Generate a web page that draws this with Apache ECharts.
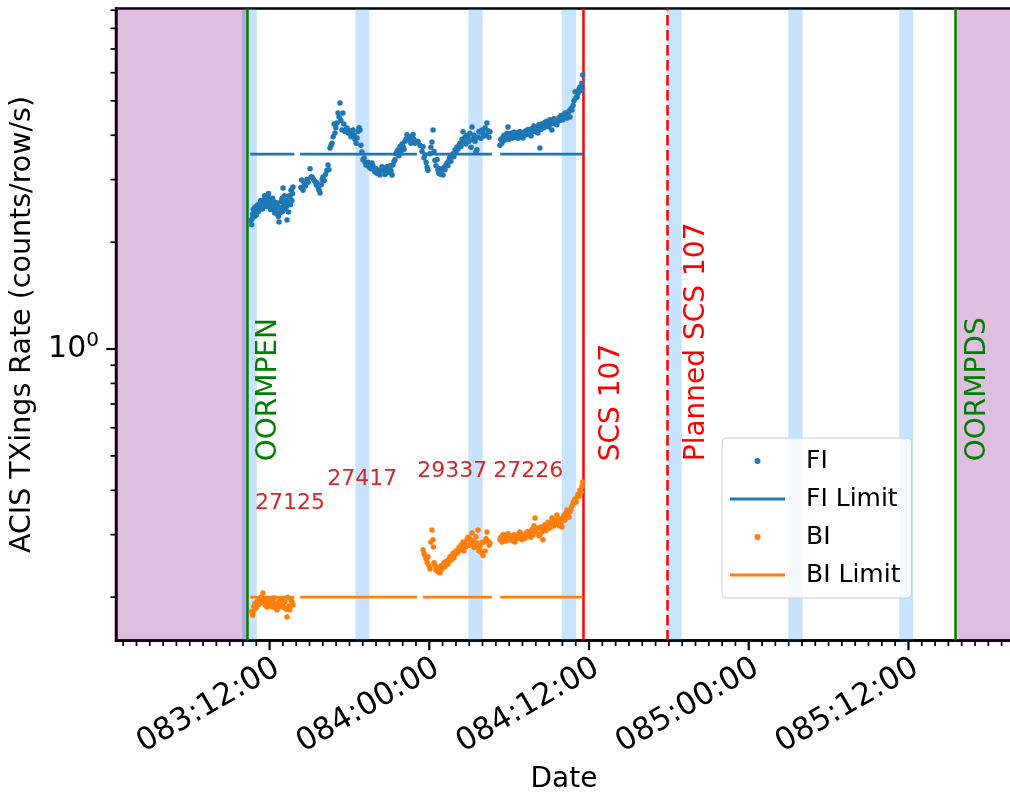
<!DOCTYPE html>
<html><head><meta charset="utf-8">
<script src="https://cdn.jsdelivr.net/npm/echarts@6/dist/echarts.min.js"></script>
<style>html,body{margin:0;padding:0;background:#fff}#c{width:1010px;height:794px}</style>
</head><body><div id="c"></div><script>
// ---- axis ranges (hours since 083:00:00, rate in counts/row/s) ----
const X_MIN = 0.46, X_MAX = 67.78, Y_MIN = 0.151, Y_MAX = 9.1;
const xTickHours = [12, 24, 36, 48, 60];
const xTickLabels = ['083:12:00', '084:00:00', '084:12:00', '085:00:00', '085:12:00'];
const xMinorHours = [1,2,3,4,5,6,7,8,9,10,11,13,14,15,16,17,18,19,20,21,22,23,25,26,27,28,29,30,31,32,33,34,35,37,38,39,40,41,42,43,44,45,46,47,49,50,51,52,53,54,55,56,57,58,59,61,62,63,64,65,66,67];
const yMajorTicks = [1];
const yMinorTicks = [0.2,0.3,0.4,0.5,0.6,0.7,0.8,0.9,2,3,4,5,6,7,8,9];

// ---- FI rates ----
const fiData = [
[10.60,2.30],[10.66,2.24],[10.72,2.40],[10.78,2.47],[10.85,2.36],[10.90,2.42],[10.97,2.52],[11.05,2.46],[11.12,2.55],[11.20,2.50],
[11.28,2.58],[11.36,2.53],[11.44,2.60],[11.50,2.55],[11.58,2.63],[11.66,2.57],[11.74,2.62],[11.80,2.66],[11.88,2.70],[11.95,2.60],
[12.03,2.55],[12.10,2.63],[12.18,2.57],[12.26,2.54],[12.33,2.60],[12.40,2.48],[12.48,2.45],[12.56,2.40],[12.63,2.52],[12.71,2.28],
[12.78,2.42],[12.86,2.60],[12.94,2.66],[13.01,2.84],[13.08,2.55],[13.16,2.48],[13.24,2.62],[13.31,2.31],[13.38,2.58],[13.46,2.70],
[13.53,2.68],[13.61,2.80],[13.68,2.62],[13.76,2.86],
[10.70,2.33],[10.88,2.50],[11.00,2.38],[11.16,2.44],[11.33,2.62],[11.47,2.48],[11.62,2.70],[11.78,2.52],[11.92,2.74],[12.07,2.47],
[12.22,2.66],[12.37,2.42],[12.52,2.58],[12.67,2.36],[12.82,2.50],[12.98,2.44],[13.12,2.70],[13.28,2.52],[13.42,2.43],[13.57,2.55],
[13.72,2.74],
[14.35,2.85],[14.41,2.99],[14.51,2.80],[14.60,2.92],[14.70,2.88],[14.80,3.00],[14.90,2.95],[15.04,3.22],[15.12,3.05],[15.19,3.05],
[15.30,3.00],[15.40,2.97],[15.50,2.90],[15.56,2.94],[15.65,2.85],[15.72,2.80],[15.79,2.75],[15.88,2.90],[15.95,3.00],[16.02,3.05],
[16.10,2.98],[16.20,3.10],[16.31,3.19],[16.39,3.30],[16.46,3.20],[16.54,3.68],[16.62,3.75],[16.69,3.80],[16.77,3.96],[16.85,4.30],
[16.91,4.06],[16.98,4.20],[17.06,4.33],[17.14,4.62],[17.22,4.50],[17.29,4.93],[17.36,4.40],[17.44,4.14],[17.51,4.62],[17.58,4.30],
[17.66,4.10],[17.74,4.15],[17.82,4.19],[17.90,4.06],[17.97,4.12],[18.04,4.06],[18.12,3.96],[18.20,4.05],[18.27,4.14],[18.35,4.00],
[18.42,3.90],[18.50,3.80],[18.57,3.93],[18.65,4.10],[18.72,4.20],[18.79,4.14],[18.86,3.75],[18.94,3.59],[19.02,3.41],[19.10,3.45],
[19.18,3.35],[19.25,3.30],[19.32,3.30],[19.40,3.36],[19.48,3.25],[19.55,3.30],[19.62,3.22],[19.69,3.34],[19.77,3.28],[19.85,3.20],
[19.92,3.15],[20.00,3.22],[20.07,3.12],[20.15,3.18],[20.22,3.12],[20.29,3.09],[20.37,3.20],[20.45,3.26],[20.52,3.22],[20.60,3.17],
[20.67,3.10],[20.75,3.22],[20.82,3.26],[20.90,3.20],[20.97,3.14],[21.05,3.28],[21.12,3.18],[21.20,3.09],[21.27,3.30],[21.35,3.38],
[21.42,3.41],[21.50,3.55],[21.57,3.60],[21.65,3.64],[21.72,3.50],[21.80,3.72],[21.87,3.60],[21.95,3.78],[22.02,3.71],[22.10,3.65],
[22.17,3.85],[22.25,3.90],[22.32,4.01],[22.40,3.88],[22.47,3.95],[22.55,3.92],[22.62,3.80],[22.70,3.96],[22.78,4.02],[22.85,3.90],
[22.92,3.80],
[23.15,3.85],[23.30,3.75],[23.45,3.60],[23.53,3.71],[23.60,3.45],[23.68,3.52],[23.76,3.35],[23.84,3.25],[23.90,3.19],[24.05,3.55],
[24.12,3.70],[24.20,3.83],[24.28,4.14],[24.35,3.60],[24.42,3.40],[24.50,3.28],[24.58,3.41],[24.65,3.20],[24.72,3.12],[24.80,3.22],
[24.88,3.10],[24.95,3.19],[25.03,3.09],[25.10,3.25],[25.18,3.20],[25.25,3.30],[25.33,3.34],[25.40,3.28],[25.48,3.40],[25.55,3.47],
[25.62,3.38],[25.70,3.50],[25.78,3.55],[25.85,3.48],[25.93,3.64],[26.00,3.58],[26.08,3.70],[26.16,3.66],[26.23,3.75],[26.31,3.80],
[26.38,3.72],[26.46,3.90],[26.53,4.09],[26.60,3.85],[26.68,3.95],[26.75,3.78],[26.83,4.00],[26.91,3.96],[26.98,3.85],[27.05,4.05],
[27.13,3.70],[27.21,4.22],[27.28,3.90],[27.36,4.00],[27.43,3.85],[27.50,3.58],[27.58,3.64],[27.66,3.95],[27.73,4.10],[27.81,4.09],
[27.88,3.92],[27.96,4.14],[28.03,4.05],[28.11,3.98],[28.19,4.20],[28.26,4.00],[28.33,4.33],[28.41,4.12],[28.48,3.95],[28.56,4.09],
[29.31,3.75],[29.38,3.90],[29.46,3.80],[29.53,3.95],[29.61,4.00],[29.68,3.88],[29.76,3.98],[29.83,4.05],[29.91,4.22],[29.98,3.90],
[30.06,3.96],[30.14,4.05],[30.21,3.92],[30.29,4.00],[30.36,4.08],[30.44,3.95],[30.52,4.01],[30.59,4.06],[30.67,3.92],[30.74,4.02],
[30.81,4.10],[30.89,3.98],[30.96,4.05],[31.04,3.93],[31.11,4.08],[31.19,4.00],[31.26,4.12],[31.34,4.02],[31.41,4.15],[31.49,4.05],
[31.56,4.09],[31.64,3.98],[31.71,4.18],[31.79,4.10],[31.86,4.25],[31.94,4.22],[32.01,4.10],[32.09,4.20],[32.16,4.06],[32.24,4.28],
[32.31,3.68],[32.39,4.15],[32.46,4.30],[32.54,4.28],[32.61,4.20],[32.69,4.35],[32.76,4.25],[32.84,4.38],[32.91,4.30],[32.99,4.22],
[33.06,4.42],[33.14,4.30],[33.21,4.14],[33.29,4.36],[33.36,4.45],[33.44,4.32],[33.51,4.40],[33.59,4.28],[33.66,4.38],[33.74,4.48],
[33.81,4.40],[33.89,4.55],[33.97,4.47],[34.04,4.42],[34.12,4.55],[34.19,4.62],[34.27,4.50],[34.34,4.47],[34.42,4.60],[34.50,4.68],
[34.57,4.50],[34.65,4.75],[34.72,4.71],[34.80,4.85],[34.87,5.00],[34.95,5.30],[35.02,5.10],[35.10,5.13],[35.17,5.25],[35.25,5.40],
[35.32,5.47],[35.40,5.35],[35.47,5.60],[35.53,5.91]
];

// ---- BI rates ----
const biData = [
[10.66,0.182],[10.72,0.178],[10.75,0.1816],[10.82,0.188],[10.90,0.192],[10.97,0.186],[11.05,0.194],[11.12,0.190],[11.20,0.197],[11.28,0.192],
[11.36,0.200],[11.44,0.196],[11.50,0.2055],[11.58,0.195],[11.66,0.190],[11.74,0.198],[11.80,0.1876],[11.88,0.193],[11.95,0.189],[12.03,0.196],
[12.10,0.191],[12.18,0.188],[12.26,0.194],[12.33,0.199],[12.40,0.192],[12.48,0.186],[12.56,0.184],[12.63,0.190],[12.71,0.195],[12.78,0.188],
[12.86,0.191],[12.94,0.196],[13.01,0.1925],[13.08,0.187],[13.16,0.194],[13.24,0.185],[13.31,0.1758],[13.38,0.200],[13.46,0.189],[13.53,0.184],
[13.61,0.196],[13.68,0.194],[13.76,0.190],
[23.53,0.272],[23.60,0.265],[23.68,0.262],[23.76,0.256],[23.84,0.250],[23.90,0.260],[23.97,0.246],[24.05,0.240],[24.12,0.286],[24.20,0.309],
[24.28,0.290],[24.31,0.277],[24.35,0.250],[24.42,0.245],[24.50,0.238],[24.58,0.243],[24.65,0.236],[24.72,0.240],[24.80,0.234],[24.88,0.245],
[24.95,0.240],[25.03,0.242],[25.10,0.250],[25.18,0.244],[25.25,0.252],[25.33,0.251],[25.40,0.248],[25.48,0.256],[25.55,0.260],[25.62,0.254],
[25.70,0.262],[25.78,0.266],[25.85,0.258],[25.93,0.264],[26.00,0.270],[26.08,0.266],[26.16,0.268],[26.23,0.276],[26.31,0.272],[26.38,0.280],
[26.46,0.274],[26.53,0.286],[26.60,0.270],[26.68,0.282],[26.75,0.278],[26.83,0.290],[26.91,0.295],[26.98,0.280],[27.05,0.292],[27.13,0.284],
[27.21,0.303],[27.28,0.288],[27.36,0.276],[27.43,0.277],[27.50,0.296],[27.58,0.284],[27.66,0.309],[27.73,0.270],[27.81,0.278],[27.88,0.268],
[27.96,0.285],[28.03,0.262],[28.11,0.286],[28.19,0.270],[28.26,0.292],[28.33,0.305],[28.41,0.288],[28.48,0.280],[28.56,0.284],
[29.31,0.290],[29.38,0.295],[29.46,0.286],[29.53,0.300],[29.61,0.292],[29.68,0.299],[29.76,0.288],[29.83,0.296],[29.91,0.302],[29.98,0.290],
[30.06,0.293],[30.14,0.298],[30.21,0.289],[30.29,0.295],[30.36,0.300],[30.44,0.286],[30.52,0.297],[30.59,0.292],[30.67,0.301],[30.74,0.294],
[30.81,0.305],[30.89,0.296],[30.96,0.290],[31.04,0.299],[31.11,0.293],[31.19,0.293],[31.26,0.303],[31.34,0.296],[31.41,0.306],[31.49,0.299],
[31.56,0.303],[31.64,0.295],[31.71,0.310],[31.79,0.300],[31.86,0.318],[31.94,0.334],[32.01,0.305],[32.09,0.312],[32.16,0.313],[32.24,0.298],
[32.31,0.300],[32.39,0.315],[32.46,0.305],[32.54,0.290],[32.61,0.310],[32.69,0.320],[32.76,0.308],[32.84,0.319],[32.91,0.325],[32.99,0.312],
[33.06,0.322],[33.14,0.316],[33.21,0.334],[33.29,0.326],[33.36,0.318],[33.44,0.330],[33.51,0.322],[33.59,0.341],[33.66,0.328],[33.74,0.318],
[33.81,0.332],[33.89,0.322],[33.97,0.315],[34.04,0.335],[34.12,0.340],[34.19,0.330],[34.27,0.345],[34.34,0.352],[34.42,0.338],[34.50,0.336],
[34.57,0.348],[34.65,0.355],[34.72,0.362],[34.80,0.368],[34.87,0.372],[34.95,0.378],[35.02,0.370],[35.10,0.383],[35.17,0.390],[35.25,0.385],
[35.32,0.401],[35.40,0.395],[35.47,0.410],[35.53,0.422]
];

// ---- limits ----
const fiLimit = 3.54;
const biLimit = 0.2;
const limitSegments = [[10.54, 13.86], [14.30, 23.07], [23.52, 28.70], [29.33, 35.55]];

// ---- time spans / events ----
const radBands = [[9.93, 11.04], [18.45, 19.50], [26.93, 28.01], [33.95, 35.02], [41.84, 42.96], [50.97, 52.05], [59.31, 60.36]];
const outOfRmSpans = [[X_MIN, 10.30], [63.52, X_MAX]];
const eventNames = ['OORMPEN', 'SCS 107', 'Planned SCS 107', 'OORMPDS'];
const eventHours = [10.30, 35.55, 41.91, 63.52];
const eventLabelHours = [11.90, 37.73, 44.08, 65.20];
const eventLabelLevel = 0.483;
const obsids = ['27125', '27417', '29337', '27226'];
const obsidHours = [10.90, 16.34, 23.10, 28.81];
const obsidLevels = [0.367, 0.430, 0.452, 0.452];

// ---- build ----
const FONT = 'DejaVu Sans';
const eventColors = ['#008000', '#ff0000', '#ff0000', '#008000'];
const eventDashed = [false, false, true, false];

function limitLine(v) {
  const out = [];
  limitSegments.forEach(s => { out.push([s[0], v], [s[1], v], [s[1], null]); });
  return out;
}
const tickData = [];
xMinorHours.forEach(h => tickData.push([h, Y_MIN, 0, 5.5]));
xTickHours.forEach(h => tickData.push([h, Y_MIN, 0, 9.7]));
yMinorTicks.forEach(v => tickData.push([X_MIN, v, 1, 5.5]));
yMajorTicks.forEach(v => tickData.push([X_MIN, v, 1, 9.7]));

const chart = echarts.init(document.getElementById('c'), null, {renderer: 'canvas'});
chart.setOption({
  animation: false,
  backgroundColor: '#fff',
  textStyle: {fontFamily: FONT},
  grid: {left: 116, top: 8.5, width: 896, height: 632, show: true, borderColor: '#000', borderWidth: 2.5,
    backgroundColor: 'transparent', containLabel: false, outerBoundsMode: 'none'},
  legend: {
    orient: 'vertical', left: 722, top: 438,
    padding: [8, 11, 8, 8], itemGap: 8, itemWidth: 55, itemHeight: 6,
    backgroundColor: 'rgba(255,255,255,0.8)', borderColor: '#cccccc', borderWidth: 1, borderRadius: 4,
    textStyle: {fontFamily: FONT, fontSize: 25, color: '#000', lineHeight: 30, padding: [0, 0, 0, 16]},
    data: [
      {name: 'FI', icon: 'circle'},
      {name: 'FI Limit', icon: 'path://M0,0L55,0L55,3L0,3Z'},
      {name: 'BI', icon: 'circle'},
      {name: 'BI Limit', icon: 'path://M0,0L55,0L55,3L0,3Z'}
    ]
  },
  xAxis: {
    type: 'value', min: X_MIN, max: X_MAX, position: 'bottom',
    axisLine: {show: true, onZero: false, lineStyle: {color: '#000', width: 2.5}},
    axisTick: {show: false}, splitLine: {show: false},
    axisLabel: {
      customValues: xTickHours, rotate: 30, margin: 12, align: 'right', verticalAlign: 'top',
      fontSize: 31, fontFamily: FONT, color: '#000',
      formatter: v => { const i = xTickHours.findIndex(t => Math.abs(t - v) < 1e-6); return i >= 0 ? xTickLabels[i] : ''; }
    },
    name: 'Date', nameLocation: 'middle', nameGap: 118,
    nameTextStyle: {fontSize: 28, fontFamily: FONT, color: '#000'}
  },
  yAxis: {
    type: 'log', logBase: 10, min: Y_MIN, max: Y_MAX,
    axisLine: {show: true, onZero: false, lineStyle: {color: '#000', width: 2.5}},
    axisTick: {show: false}, splitLine: {show: false}, minorTick: {show: false},
    axisLabel: {
      margin: 17, showMinLabel: false, showMaxLabel: false,
      formatter: v => Math.abs(v - 1) < 1e-9 ? '{b|10}{s|0}' : '',
      rich: {
        b: {fontSize: 30, fontFamily: FONT, color: '#000', lineHeight: 36},
        s: {fontSize: 20, fontFamily: FONT, color: '#000', verticalAlign: 'top', lineHeight: 22}
      }
    },
    name: 'ACIS TXings Rate (counts/row/s)', nameLocation: 'middle', nameRotate: 90, nameGap: 69,
    nameTextStyle: {fontSize: 28.5, fontFamily: FONT, color: '#000'}
  },
  series: [
    {
      name: 'FI', type: 'scatter', data: fiData, symbolSize: 5.5, z: 3,
      itemStyle: {color: '#1f77b4', opacity: 1},
      markArea: {
        silent: true, z: 1,
        data: radBands.map(b => [{xAxis: b[0], itemStyle: {color: 'rgba(30,144,255,0.25)'}}, {xAxis: b[1]}])
          .concat(outOfRmSpans.map(b => [{xAxis: b[0], itemStyle: {color: 'rgba(128,0,128,0.25)'}}, {xAxis: b[1]}]))
      },
      markLine: {
        silent: true, symbol: ['none', 'none'], z: 2, label: {show: false},
        data: eventHours.map((h, i) => ({xAxis: h, lineStyle: {color: eventColors[i], width: 2.5, type: eventDashed[i] ? [10.5, 4.5] : 'solid'}}))
      }
    },
    {name: 'FI Limit', type: 'line', data: limitLine(fiLimit), showSymbol: false, symbol: 'none', connectNulls: false, z: 4,
      lineStyle: {color: '#1f77b4', width: 2.8}, itemStyle: {color: '#1f77b4'}},
    {name: 'BI', type: 'scatter', data: biData, symbolSize: 5.5, z: 3, itemStyle: {color: '#ff7f0e', opacity: 1}},
    {name: 'BI Limit', type: 'line', data: limitLine(biLimit), showSymbol: false, symbol: 'none', connectNulls: false, z: 4,
      lineStyle: {color: '#ff7f0e', width: 2.8}, itemStyle: {color: '#ff7f0e'}},
    {
      name: 'ticks', type: 'custom', clip: false, silent: true, z: 10, data: tickData,
      renderItem: (params, api) => {
        const p = api.coord([api.value(0), api.value(1)]);
        const len = api.value(3);
        const isY = api.value(2) === 1;
        const shape = isY ? {x1: p[0] - len, y1: p[1], x2: p[0], y2: p[1]} : {x1: p[0], y1: p[1], x2: p[0], y2: p[1] + len};
        return {type: 'line', shape: shape, style: {stroke: '#000', lineWidth: len > 7 ? 2.2 : 1.7}};
      }
    },
    {
      name: 'events', type: 'custom', clip: false, silent: true, z: 6,
      data: eventLabelHours.map(h => [h, eventLabelLevel]),
      renderItem: (params, api) => {
        const p = api.coord([api.value(0), api.value(1)]);
        const i = params.dataIndex;
        return {type: 'text', x: p[0], y: p[1], rotation: Math.PI / 2,
          style: {text: eventNames[i], fill: eventColors[i], fontSize: 28, fontFamily: FONT, align: 'left', verticalAlign: 'middle'}};
      }
    },
    {
      name: 'obsids', type: 'custom', clip: false, silent: true, z: 6,
      data: obsidHours.map((h, i) => [h, obsidLevels[i]]),
      renderItem: (params, api) => {
        const p = api.coord([api.value(0), api.value(1)]);
        return {type: 'text', x: p[0], y: p[1],
          style: {text: obsids[params.dataIndex], fill: '#d62728', fontSize: 22, fontFamily: FONT, align: 'left', verticalAlign: 'middle'}};
      }
    }
  ]
});
</script></body></html>
